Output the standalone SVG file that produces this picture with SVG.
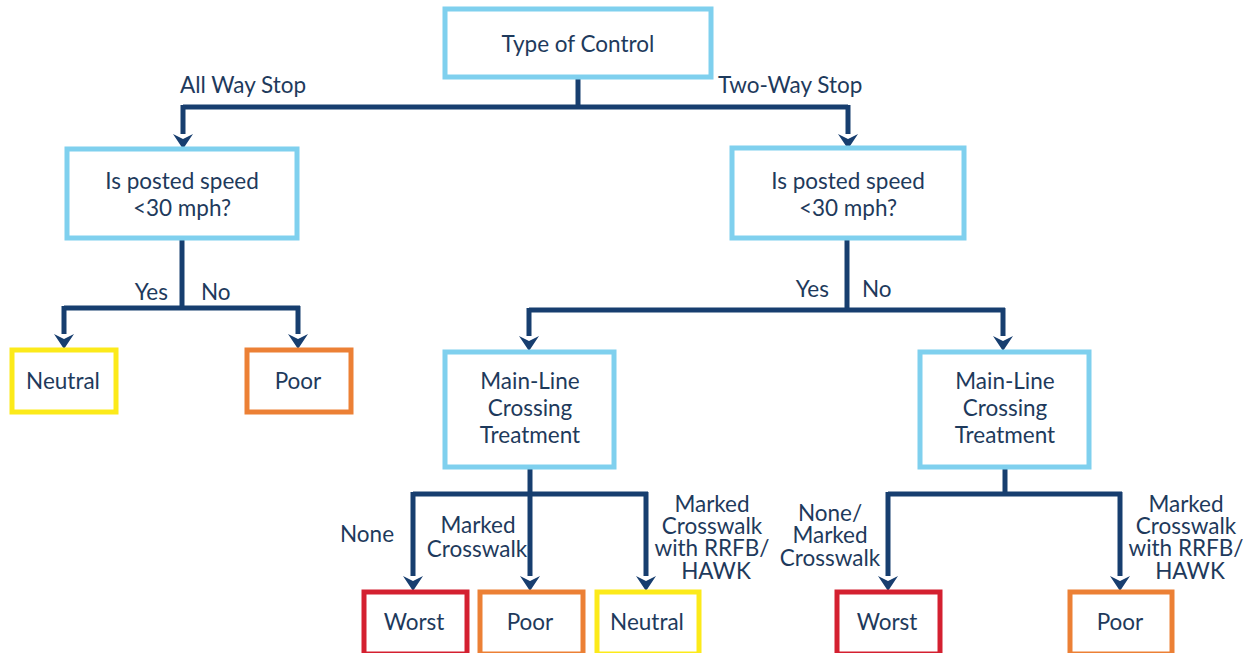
<svg xmlns="http://www.w3.org/2000/svg" width="1258" height="653" viewBox="0 0 1258 653">
  <defs>
    <style>
      .box { fill: #ffffff; stroke-width: 5; }
      .q { stroke: #7fd0ee; }
      .neutral { stroke: #fcea1a; }
      .poor { stroke: #ec8035; }
      .worst { stroke: #d42030; }
      .wire { fill: none; stroke: #173e6f; stroke-width: 5; }
      .head { fill: #173e6f; }
      text { font-family: Lato, "Noto Sans", sans-serif; font-size: 22.5px; fill: #1e3a5c; }
      .c { text-anchor: middle; }
      .r { text-anchor: end; }
    </style>
    <!-- downward arrowhead, tip at (0,0) -->
    <path id="ah" class="head" d="M-10,-15 L0,-10 L10,-15 L0,0 Z"/>
  </defs>

  <!-- connectors -->
  <g id="connectors">
    <path class="wire" d="M578,77 V107"/>
    <path class="wire" d="M183,107 H848"/>
    <path class="wire" d="M183,105 V134"/>
    <path class="wire" d="M848,105 V134"/>
    <path class="wire" d="M182,238 V308"/>
    <path class="wire" d="M64,308 H300"/>
    <path class="wire" d="M64,306 V334"/>
    <path class="wire" d="M298,306 V334"/>
    <path class="wire" d="M847,239 V310"/>
    <path class="wire" d="M529,310 H1005"/>
    <path class="wire" d="M529,308 V336"/>
    <path class="wire" d="M1003,308 V336"/>
    <path class="wire" d="M530,468 V494"/>
    <path class="wire" d="M413,494 H648"/>
    <path class="wire" d="M413,492 V576"/>
    <path class="wire" d="M530,492 V576"/>
    <path class="wire" d="M646,492 V576"/>
    <path class="wire" d="M1005,468 V494"/>
    <path class="wire" d="M888,494 H1122"/>
    <path class="wire" d="M888,492 V576"/>
    <path class="wire" d="M1120,492 V576"/>
    <!-- arrowheads -->
    <use href="#ah" x="183" y="149"/>
    <use href="#ah" x="848" y="149"/>
    <use href="#ah" x="64" y="349"/>
    <use href="#ah" x="298" y="349"/>
    <use href="#ah" x="529" y="351"/>
    <use href="#ah" x="1003" y="351"/>
    <use href="#ah" x="413" y="591"/>
    <use href="#ah" x="530" y="591"/>
    <use href="#ah" x="646" y="591"/>
    <use href="#ah" x="888" y="591"/>
    <use href="#ah" x="1120" y="591"/>
    <!-- branch labels -->
    <text x="180" y="93">All Way Stop</text>
    <text x="718" y="93">Two-Way Stop</text>
    <text class="r" x="168" y="300">Yes</text>
    <text x="201" y="300">No</text>
    <text class="r" x="829" y="297">Yes</text>
    <text x="862" y="297">No</text>
    <text x="340" y="542">None</text>
    <text class="c" x="478" y="533">Marked</text>
    <text class="c" x="477" y="557">Crosswalk</text>
    <text class="c" x="712" y="512">Marked</text>
    <text class="c" x="712" y="534">Crosswalk</text>
    <text class="c" x="712" y="556">with RRFB/</text>
    <text class="c" x="716" y="579">HAWK</text>
    <text class="c" x="830" y="521">None/</text>
    <text class="c" x="830" y="543">Marked</text>
    <text class="c" x="830" y="566">Crosswalk</text>
    <text class="c" x="1186" y="512">Marked</text>
    <text class="c" x="1186" y="534">Crosswalk</text>
    <text class="c" x="1186" y="556">with RRFB/</text>
    <text class="c" x="1190" y="579">HAWK</text>
  </g>

  <g id="type-of-control">
    <rect class="box q" x="445" y="9" width="266" height="68"/>
    <text class="c" x="578" y="52">Type of Control</text>
  </g>

  <g id="speed-all-way">
    <rect class="box q" x="67" y="149" width="230" height="89"/>
    <text class="c" x="182" y="189">Is posted speed</text>
    <text class="c" x="182" y="216">&lt;30 mph?</text>
  </g>

  <g id="speed-two-way">
    <rect class="box q" x="732" y="148" width="232" height="90"/>
    <text class="c" x="848" y="189">Is posted speed</text>
    <text class="c" x="848" y="216">&lt;30 mph?</text>
  </g>

  <g id="all-way-neutral">
    <rect class="box neutral" x="12" y="350" width="104" height="62"/>
    <text class="c" x="63" y="389">Neutral</text>
  </g>

  <g id="all-way-poor">
    <rect class="box poor" x="247" y="350" width="104" height="62"/>
    <text class="c" x="298" y="389">Poor</text>
  </g>

  <g id="treatment-low-speed">
    <rect class="box q" x="445" y="352" width="169" height="115"/>
    <text class="c" x="530" y="389">Main-Line</text>
    <text class="c" x="530" y="416">Crossing</text>
    <text class="c" x="530" y="443">Treatment</text>
  </g>

  <g id="treatment-high-speed">
    <rect class="box q" x="920" y="352" width="169" height="115"/>
    <text class="c" x="1005" y="389">Main-Line</text>
    <text class="c" x="1005" y="416">Crossing</text>
    <text class="c" x="1005" y="443">Treatment</text>
  </g>

  <g id="low-none-worst">
    <rect class="box worst" x="364" y="592" width="103" height="62"/>
    <text class="c" x="414" y="630">Worst</text>
  </g>

  <g id="low-marked-poor">
    <rect class="box poor" x="480" y="592" width="103" height="62"/>
    <text class="c" x="530" y="630">Poor</text>
  </g>

  <g id="low-rrfb-neutral">
    <rect class="box neutral" x="597" y="592" width="102" height="62"/>
    <text class="c" x="647" y="630">Neutral</text>
  </g>

  <g id="high-marked-worst">
    <rect class="box worst" x="837" y="592" width="103" height="62"/>
    <text class="c" x="887" y="630">Worst</text>
  </g>

  <g id="high-rrfb-poor">
    <rect class="box poor" x="1070" y="592" width="102" height="62"/>
    <text class="c" x="1120" y="630">Poor</text>
  </g>
</svg>
